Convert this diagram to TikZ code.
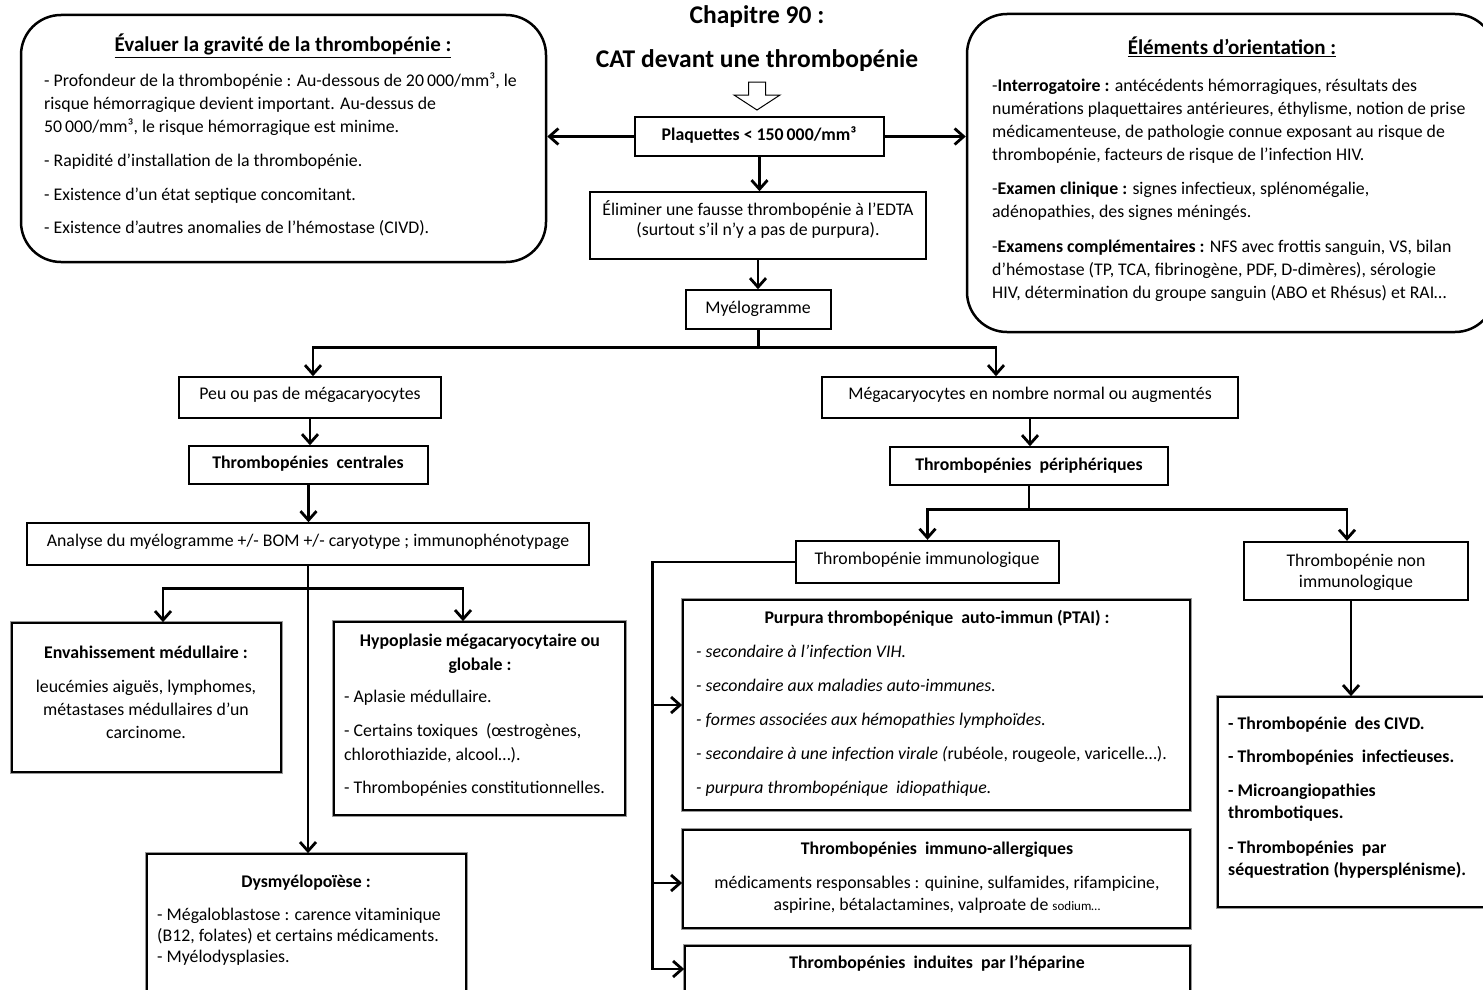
\documentclass[tikz,border=0pt]{standalone}
\usepackage{fontspec}
\setmainfont{Carlito}
\usetikzlibrary{arrows.meta}

\tikzset{
  conn/.style={line width=2.8pt, line join=miter},
  tip/.tip={Straight Barb[length=9pt,width=16pt,line width=2.8pt]},
  arr/.style={conn, -tip},
  dbl/.style={conn, tip-tip},
  plainbox/.style={draw, line width=1.5pt, inner sep=0pt, fill=white},
  thickbox/.style={draw, line width=2.3pt, inner sep=0pt, fill=white},
  shadebox/.style={plainbox, line width=1.7pt, preaction={draw=black!40, line width=4.5pt}},
  roundbox/.style={draw, line width=2.5pt, rounded corners=40pt, inner sep=0pt},
  txt/.style={inner sep=0pt, align=left},
  ctxt/.style={inner sep=0pt, align=center},
  title/.style={inner sep=0pt, font=\fontsize{25.5}{30}\selectfont\bfseries},
}

\begin{document}
\begin{tikzpicture}[x=1pt, y=-1pt]
\useasboundingbox (0,0) rectangle (1483,990);

% ---- heading ----
\node[title, anchor=base] (chap) at (757,24) {Chapitre 90 :};
\node[title, anchor=base] (cat) at (757,67) {CAT devant une thrombopénie};
\draw[line width=1pt, fill=white] (748.5,82) -- (765.5,82) -- (765.5,95) -- (780,95)
  -- (757,110) -- (734,95) -- (748.5,95) -- cycle;

% ---- rounded side panels ----
\node[roundbox, minimum width=525pt, minimum height=247pt] (grav) at (283.5,138.5) {};
\node[inner sep=0pt, anchor=base, font=\fontsize{21}{24}\selectfont\bfseries] (gravt) at (283,52)
  {\underline{Évaluer la gravité de la thrombopénie :}};
\node[txt, anchor=north west, font=\fontsize{17.8}{23}\selectfont] (gravb) at (44,69.9)
  {\strut- Profondeur de la thrombopénie : Au-dessous de 20\,000/mm³, le\\
   risque hémorragique devient important. Au-dessus de\\
   50\,000/mm³, le risque hémorragique est minime.\\[11pt]
   - Rapidité d’installation de la thrombopénie.\\[11pt]
   - Existence d’un état septique concomitant.\\[10pt]
   - Existence d’autres anomalies de l’hémostase (CIVD).};

\node[roundbox, minimum width=528pt, minimum height=318pt] (orient) at (1231,173) {};
\node[inner sep=0pt, anchor=base, font=\fontsize{21}{24}\selectfont\bfseries] (orientt) at (1232,55)
  {\underline{Éléments d’orientation :}};
\node[txt, anchor=north west, font=\fontsize{17.8}{23}\selectfont] (orientb) at (992,74.9)
  {\strut-\textbf{Interrogatoire :} antécédents hémorragiques, résultats des\\
   numérations plaquettaires antérieures, éthylisme, notion de prise\\
   médicamenteuse, de pathologie connue exposant au risque de\\
   thrombopénie, facteurs de risque de l’infection HIV.\\[11pt]
   -\textbf{Examen clinique :} signes infectieux, splénomégalie,\\
   adénopathies, des signes méningés.\\[12pt]
   -\textbf{Examens complémentaires :} NFS avec frottis sanguin, VS, bilan\\
   d’hémostase (TP, TCA, fibrinogène, PDF, D-dimères), sérologie\\
   HIV, détermination du groupe sanguin (ABO et Rhésus) et RAI…};

% ---- central column ----
\node[thickbox, minimum width=249pt, minimum height=39pt] (plaq) at (759.5,136.5) {};
\node[inner sep=0pt, anchor=base, font=\fontsize{17.8}{21}\selectfont\bfseries] (plaqt) at (759,140)
  {Plaquettes < 150\,000/mm³};

\node[plainbox, minimum width=336pt, minimum height=67pt] (elim) at (758,225.5) {};
\node[ctxt, anchor=north, font=\fontsize{17.8}{20}\selectfont] (elimt) at (758,200)
  {\strut Éliminer une fausse thrombopénie à l’EDTA\\(surtout s’il n’y a pas de purpura).};

\node[plainbox, minimum width=145pt, minimum height=39pt] (myelo) at (758.5,309.5) {};
\node[inner sep=0pt, anchor=base, font=\fontsize{17.8}{21}\selectfont] (myelot) at (758,313) {Myélogramme};

% ---- central thrombopenias ----
\node[plainbox, minimum width=262pt, minimum height=41pt] (peu) at (310,397.5) {};
\node[inner sep=0pt, anchor=base, font=\fontsize{17.8}{21}\selectfont] (peut) at (310,399)
  {Peu ou pas de mégacaryocytes};

\node[plainbox, minimum width=239pt, minimum height=38pt] (centr) at (308.5,465) {};
\node[inner sep=0pt, anchor=base, font=\fontsize{17.8}{21}\selectfont\bfseries] (centrt) at (308,468)
  {Thrombopénies\ \ centrales};

\node[plainbox, minimum width=562pt, minimum height=42pt] (anal) at (308,544) {};
\node[inner sep=0pt, anchor=base, font=\fontsize{17.8}{21}\selectfont] (analt) at (308,546)
  {Analyse du myélogramme +/- BOM +/- caryotype ; immunophénotypage};

\node[shadebox, minimum width=269pt, minimum height=149pt] (envah) at (146.5,697.5) {};
\node[ctxt, anchor=north, font=\fontsize{17.8}{23}\selectfont] (envaht) at (146,641.9)
  {\strut\textbf{Envahissement médullaire :}\\[11pt]
   leucémies aiguës, lymphomes,\\ métastases médullaires d’un\\ carcinome.};

\node[shadebox, minimum width=291pt, minimum height=193pt] (hypo) at (479.5,718.5) {};
\node[ctxt, anchor=north, font=\fontsize{17.8}{24}\selectfont\bfseries] (hypot) at (480,629.2)
  {\strut Hypoplasie mégacaryocytaire ou\\globale :};
\node[txt, anchor=north west, font=\fontsize{17.8}{23.5}\selectfont] (hypob) at (344,685.5)
  {\strut- Aplasie médullaire.\\[11pt]
   - Certains toxiques\ \ (œstrogènes,\\
   chlorothiazide, alcool…).\\[10pt]
   - Thrombopénies constitutionnelles.};

\node[shadebox, minimum width=319pt, minimum height=140pt] (dysm) at (306.5,924) {};
\node[inner sep=0pt, anchor=base, font=\fontsize{17.8}{21}\selectfont\bfseries] (dysmt) at (306,887)
  {Dysmyélopoïèse :};
\node[txt, anchor=north west, font=\fontsize{17.8}{21}\selectfont] (dysmb) at (157,905.3)
  {\strut- Mégaloblastose : carence vitaminique\\
   (B12, folates) et certains médicaments.\\
   - Myélodysplasies.};

% ---- peripheral thrombopenias ----
\node[plainbox, minimum width=416pt, minimum height=41pt] (mega) at (1030,397.5) {};
\node[inner sep=0pt, anchor=base, font=\fontsize{17.8}{21}\selectfont] (megat) at (1030,399)
  {Mégacaryocytes en nombre normal ou augmentés};

\node[plainbox, minimum width=278pt, minimum height=38pt] (peri) at (1029,466) {};
\node[inner sep=0pt, anchor=base, font=\fontsize{17.8}{21}\selectfont\bfseries] (perit) at (1029,470)
  {Thrombopénies\ \ périphériques};

\node[thickbox, minimum width=263pt, minimum height=42pt] (immu) at (927.5,562) {};
\node[inner sep=0pt, anchor=base, font=\fontsize{17.8}{21}\selectfont] (immut) at (927,564)
  {Thrombopénie immunologique};

\node[thickbox, minimum width=224pt, minimum height=58pt] (nonimmu) at (1356,571) {};
\node[ctxt, anchor=north, font=\fontsize{17.8}{21}\selectfont] (nonimmut) at (1356,551.3)
  {\strut Thrombopénie non\\immunologique};

\node[shadebox, minimum width=272pt, minimum height=210pt] (nonlist) at (1354,802) {};
\node[txt, anchor=north west, font=\fontsize{17.8}{22.5}\selectfont\bfseries] (nonlistt) at (1228,713.2)
  {\strut- Thrombopénie\ \ des CIVD.\\[11pt]
   - Thrombopénies\ \ infectieuses.\\[11pt]
   - Microangiopathies\\
   thrombotiques.\\[12pt]
   - Thrombopénies\ \ par\\
   séquestration (hypersplénisme).};

\node[shadebox, minimum width=507pt, minimum height=210pt] (ptai) at (936.5,705) {};
\node[inner sep=0pt, anchor=base, font=\fontsize{17.8}{21}\selectfont\bfseries] (ptait) at (937,623)
  {Purpura thrombopénique\ \ auto-immun (PTAI) :};
\node[txt, anchor=north west, font=\fontsize{17.8}{34}\selectfont] (ptaib) at (696,633.2)
  {\strut\textit{- secondaire à l’infection VIH.}\\
   \textit{- secondaire aux maladies auto-immunes.}\\
   \textit{- formes associées aux hémopathies lymphoïdes.}\\
   \textit{- secondaire à une infection virale (}rubéole, rougeole,\ varicelle…).\\
   \textit{- purpura thrombopénique\ \ idiopathique.}};

\node[shadebox, minimum width=507pt, minimum height=98pt] (allerg) at (936.5,879) {};
\node[inner sep=0pt, anchor=base, font=\fontsize{17.8}{21}\selectfont\bfseries] (allergt) at (937,854)
  {Thrombopénies\ \ immuno-allergiques};
\node[ctxt, anchor=north, font=\fontsize{17.8}{22}\selectfont] (allergb) at (937,872.6)
  {\strut médicaments responsables : quinine, sulfamides, rifampicine,\\
   aspirine, bétalactamines, valproate de {\fontsize{13}{15}\selectfont sodium…}};

\node[shadebox, minimum width=505pt, minimum height=46pt] (hepar) at (937.5,969) {};
\node[inner sep=0pt, anchor=base, font=\fontsize{17.8}{21}\selectfont\bfseries] (hepart) at (937,968)
  {Thrombopénies\ \ induites\ \ par l’héparine};

% ---- connectors ----
\draw[arr] (plaq.west) -- (plaq.west -| grav.east);
\draw[arr] (plaq.east) -- (plaq.east -| orient.west);
\draw[arr] (plaq.south) -- (plaq.south |- elim.north);
\draw[arr] (elim.south) -- (elim.south |- myelo.north);

\coordinate (jm) at ([yshift=-18pt]myelo.south);
\draw[conn] (myelo.south) -- (jm);
\draw[dbl] ([xshift=3pt]peu.north) |- (jm) -| ([xshift=-34pt]mega.north);

\draw[arr] (peu.south) -- (peu.south |- centr.north);
\draw[arr] (centr.south) -- (centr.south |- anal.north);

\coordinate (ja) at ([yshift=-23pt]anal.south);
\draw[dbl] ([xshift=16.5pt]envah.north) |- (ja) -| ([xshift=-16.5pt]hypo.north);
\draw[arr] (anal.south) -- (anal.south |- dysm.north);

\draw[arr] (mega.south) -- (mega.south |- peri.north);
\coordinate (jp) at ([yshift=-24pt]peri.south);
\draw[conn] (peri.south) -- (jp);
\draw[dbl] (immu.north) |- (jp) -| ([xshift=-9pt]nonimmu.north);
\draw[arr] ([xshift=-5pt]nonimmu.south) -- ([xshift=-5pt]nonimmu.south |- nonlist.north);

\coordinate (bus) at ([xshift=-142pt]immu.west);
\draw[arr] (immu.west) -- (bus) |- (hepar.west);
\draw[arr] (bus |- ptai.west) -- (ptai.west);
\draw[arr] ([yshift=-4pt]bus |- allerg.west) -- ([yshift=-4pt]allerg.west);
\end{tikzpicture}
\end{document}
